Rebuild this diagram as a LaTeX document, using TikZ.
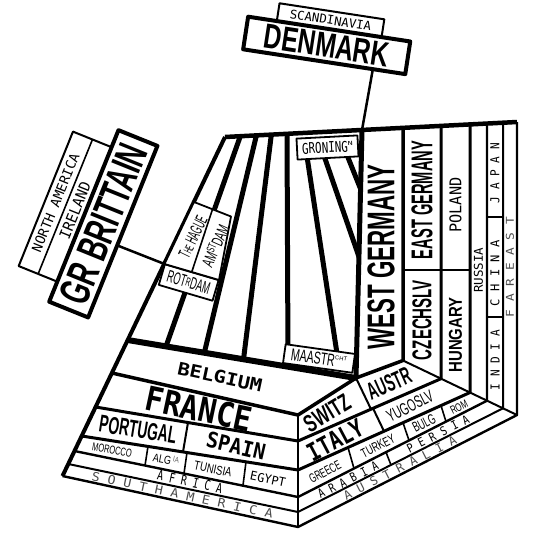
\documentclass[tikz,border=0pt]{standalone}
\usepackage{graphicx}
\usepackage{fontspec}
\setmainfont{Liberation Sans}
\newfontfamily\mf{DejaVu Sans Mono}
\newfontfamily\lsf{Liberation Sans}
\usetikzlibrary{calc}
\newcommand\Rbx[3]{\resizebox{#1pt}{#2pt}{#3}}
\tikzset{
  lbl/.style={inner sep=0pt, outer sep=0pt},
  faint/.style={inner sep=0pt, outer sep=0pt, text=black!70},
  wbox/.style={draw, fill=white, line width=1.8pt, inner sep=0pt, outer sep=0pt},
  fanline/.style={line width=5pt},
  ringA/.style={line width=3.5pt},
  ringB/.style={line width=3pt},
  ringC/.style={line width=2.4pt},
  ringD/.style={line width=2pt},
  divline/.style={line width=1.6pt},
}
\begin{document}
\begin{tikzpicture}[x=1pt,y=-1pt,line join=round]
\useasboundingbox (0,0) rectangle (546,533);
\fill[white] (0,0) rectangle (546,533);

% ---- key points
\coordinate (TL) at (225,137);
\coordinate (W0) at (362,130);
\coordinate (N)  at (356,378);
\coordinate (L0) at (127.7,340);
\coordinate (L1) at (111.9,373);
\coordinate (L2) at (95.6,407);
\coordinate (L3) at (81.7,436);
\coordinate (L4) at (74.5,451);
\coordinate (L5) at (68.3,464);
\coordinate (L6) at (62.5,476);
\coordinate (A1) at (298,415);
\coordinate (A2) at (298,441);
\coordinate (A3) at (298,470);
\coordinate (A4) at (298,497);
\coordinate (A5) at (298,512);
\coordinate (A6) at (298,527);
\coordinate (B1) at (403,360.5);
\coordinate (B2) at (441,378.7);
\coordinate (B3) at (470,392.5);
\coordinate (B4) at (487,400.7);
\coordinate (B5) at (503,408.3);
\coordinate (B6) at (517,415);
\coordinate (T1) at (403,127.9);
\coordinate (T2) at (441,125.9);
\coordinate (T3) at (470,124.4);
\coordinate (T4) at (487,123.5);
\coordinate (T5) at (503,122.7);
\coordinate (T6) at (517,122);

% ---- Netherlands fan
\begin{scope}
\clip (TL) -- (W0) -- (N) -- (L0) -- cycle;
\draw[fanline] (242.5,130) -- (164,352);
\draw[fanline] (257.7,130) -- (204.5,352);
\draw[fanline] (271.9,130) -- (243.8,357);
\draw[fanline] (287,130) -- (288,362);
\draw[fanline] (306,150) -- (338.6,364);
\draw[fanline] (322,150) -- (366,277);
\draw[fanline] (345,150) -- (367,205);
\end{scope}

% ---- rings
\draw[ringA] (L1) -- (A1) -- (N) -- (B1) -- (T1);
\draw[ringB] (L2) -- (A2) -- (B2) -- (T2);
\draw[ringB] (L3) -- (A3) -- (B3) -- (T3);
\draw[ringC] (L4) -- (A4) -- (B4) -- (T4);
\draw[ringD] (L5) -- (A5) -- (B5) -- (T5);
\draw[ringC] (L6) -- (A6) -- (B6) -- (T6);
\draw[ringC] (A1) -- (A6);
\draw[ringD] (B1) -- (B6);
\draw[line width=6pt] (L0) -- (N);
\draw[line width=5pt] (W0) -- (N);
\draw[line width=4.5pt] (TL) -- (T6);
\draw[line width=4pt] (TL) -- (L6);

% ---- dividers
\draw[ringD] (N) -- (371,409.2);
\draw[ringD] (373,408.3) -- (384,431.2);
\draw[divline] (348,447.5) -- (354,468.5);
\draw[divline] (403,422.7) -- (409,440.4);
\draw[divline] (441,405.6) -- (446,421.6);
\draw[divline] (386,452.2) -- (391,465.0);
\draw[ringD] (188,422.5) -- (183,451.9);
\draw[divline] (148,446.4) -- (145,465.5);
\draw[divline] (187,452.5) -- (184,473.5);
\draw[divline] (246,461.8) -- (243,485.3);
\draw[ringD] (403,269.5) -- (470,269.5);
\draw[divline] (487,217) -- (503,217);
\draw[divline] (487,317) -- (503,317);

% ---- Netherlands boxes
\node[wbox, rotate=3, minimum width=61pt, minimum height=21pt] (gron) at (327.5,147.5)
  {\Rbx{46}{11}{\mf GRONING}\raisebox{6pt}{\Rbx{5}{4}{\mf N}}};
\node[wbox, rotate=-8, minimum width=70pt, minimum height=19pt] (maas) at (319,358.5)
  {\Rbx{44}{12}{\lsf MAASTR}\raisebox{7pt}{\Rbx{12}{4}{\lsf CHT}}};
\node[wbox, rotate=-16.4, minimum width=56pt, minimum height=21.5pt] (rot) at (188.7,282.5)
  {\Rbx{44}{12}{\lsf ROT\raisebox{1pt}{\scriptsize R}DAM}};
\draw[line width=1.8pt, fill=white] (164.5,264) -- (194,202) -- (231,216.5) -- (219,280) -- cycle;
\draw[line width=1.6pt] (212.5,209.3) -- (191.75,272);
\node[lbl, rotate=64] (hague) at (193,237)
  {\Rbx{44}{12}{\lsf T{\scriptsize HE} HAGUE}};
\node[lbl, rotate=66] (amst) at (215,246)
  {\Rbx{44}{13}{\lsf AM\raisebox{3pt}{\scriptsize ST}DAM}};

% ---- Denmark
\node[draw, line width=4pt, fill=white, rotate=-8.7, minimum width=164pt, minimum height=33pt, inner sep=0pt, outer sep=0pt] (dk) at (326.7,45.4)
  {\Rbx{126}{24}{\lsf\bfseries DENMARK}};
\node[draw, line width=2pt, rotate=-8.7, minimum width=106pt, minimum height=18pt, inner sep=0pt, outer sep=0pt, anchor=south] (sc) at (dk.north)
  {\Rbx{82}{9}{\mf SCANDINAVIA}};
\draw[line width=2.5pt] ($(dk.south)!0.6!(dk.south east)$) -- (W0);

% ---- Great Britain
\node[draw, line width=4pt, rotate=68, minimum width=185pt, minimum height=42pt, inner sep=0pt, outer sep=0pt] (gb) at (103.3,223.8)
  {\Rbx{168}{30}{\lsf\bfseries GR BRITTAIN}};
\node[draw, line width=2pt, rotate=68, minimum width=145pt, minimum height=42pt, inner sep=0pt, outer sep=0pt] (nair) at (65.3,206.7) {};
\draw[divline] (nair.west) -- (nair.east);
\node[lbl, rotate=68] (na) at ($(nair.center)!0.5!(nair.north)$) {\Rbx{105}{10}{\mf NORTH AMERICA}};
\node[lbl, rotate=68] (ire) at ($(nair.center)!0.5!(nair.south)$) {\Rbx{60}{11}{\mf IRELAND}};
\coordinate (hg) at (164.5,264);
\draw[line width=2.5pt] ($(gb.south)!0.16!(gb.south west)$) -- (hg);

% ---- labels, left sector
\node[lbl, rotate=-12] (belg) at (220,377) {\Rbx{86}{13}{\mf\bfseries BELGIUM}};
\node[lbl, rotate=-12] (fra) at (199,409) {\Rbx{108}{25}{\mf\bfseries FRANCE}};
\node[lbl, rotate=-9] (port) at (138,429.5) {\Rbx{78}{17}{\lsf\bfseries PORTUGAL}};
\node[lbl, rotate=-13] (spain) at (236,446) {\Rbx{60}{16}{\mf\bfseries SPAIN}};
\node[lbl, rotate=-10] (moro) at (112,450) {\Rbx{40}{8}{\lsf MOROCCO}};
\node[lbl, rotate=-11] (alg) at (166,459.5) {\Rbx{26}{9}{\lsf ALG\,\raisebox{3pt}{\color{black!60}\scriptsize IA}}};
\node[lbl, rotate=-12] (tun) at (213,469) {\Rbx{38}{9}{\lsf TUNISIA}};
\node[lbl, rotate=-12] (egy) at (268,479) {\Rbx{36}{9}{\mf EGYPT}};
\node[lbl, rotate=-12] (afr) at (190,482) {\Rbx{66}{10}{\mf A F R I C A}};
\node[faint, rotate=-12] (sam) at (182.5,495) {\Rbx{185}{9}{\mf S O U T H  A M E R I C A}};

% ---- labels, lower right sector
\node[lbl, rotate=31] (swz) at (327,413) {\Rbx{50}{17}{\lsf\bfseries SWITZ}};
\node[lbl, rotate=24] (aus) at (389,383.5) {\Rbx{46}{17}{\lsf\bfseries AUSTR}};
\node[lbl, rotate=28] (ita) at (335,440) {\Rbx{60}{18}{\mf\bfseries ITALY}};
\node[lbl, rotate=27] (yug) at (410,406) {\Rbx{50}{12}{\lsf YUGOSLV}};
\node[lbl, rotate=28] (gre) at (325,472) {\Rbx{34}{9}{\lsf GREECE}};
\node[lbl, rotate=27] (tur) at (378,446) {\Rbx{36}{9}{\lsf TURKEY}};
\node[lbl, rotate=27] (bul) at (424,423) {\Rbx{24}{10}{\lsf BULG}};
\node[lbl, rotate=27] (rom) at (459,407) {\Rbx{18}{8}{\lsf ROM}};
\node[lbl, rotate=27] (arab) at (348,480) {\Rbx{66}{9}{\mf A R A B I A}};
\node[lbl, rotate=27] (pers) at (438,434) {\Rbx{68}{9}{\mf P E R S I A}};
\node[faint, rotate=27] (ausl) at (400,468) {\Rbx{125}{9}{\mf A U S T R A L I A}};

% ---- labels, right sector
\node[lbl, rotate=90] (wg) at (381,257) {\Rbx{185}{27}{\lsf\bfseries WEST GERMANY}};
\node[lbl, rotate=90] (eg) at (422,200) {\Rbx{118}{21}{\lsf\bfseries EAST GERMANY}};
\node[lbl, rotate=90] (cz) at (422,320) {\Rbx{80}{19}{\lsf\bfseries CZECHSLV}};
\node[lbl, rotate=90] (pol) at (455.5,205) {\Rbx{55}{12}{\mf POLAND}};
\node[lbl, rotate=90] (hun) at (455.5,335) {\Rbx{75}{13}{\lsf\bfseries HUNGARY}};
\node[lbl, rotate=90] (rus) at (478.5,270) {\Rbx{45}{9}{\mf RUSSIA}};
\node[lbl, rotate=90] (jap) at (495,173) {\Rbx{60}{9}{\mf J A P A N}};
\node[lbl, rotate=90] (chi) at (495,273) {\Rbx{66}{9}{\mf C H I N A}};
\node[lbl, rotate=90] (ind) at (495,360) {\Rbx{60}{9}{\mf I N D I A}};
\node[faint, rotate=90] (fe) at (510,267) {\Rbx{100}{8}{\mf F A R  E A S T}};
\end{tikzpicture}
\end{document}
